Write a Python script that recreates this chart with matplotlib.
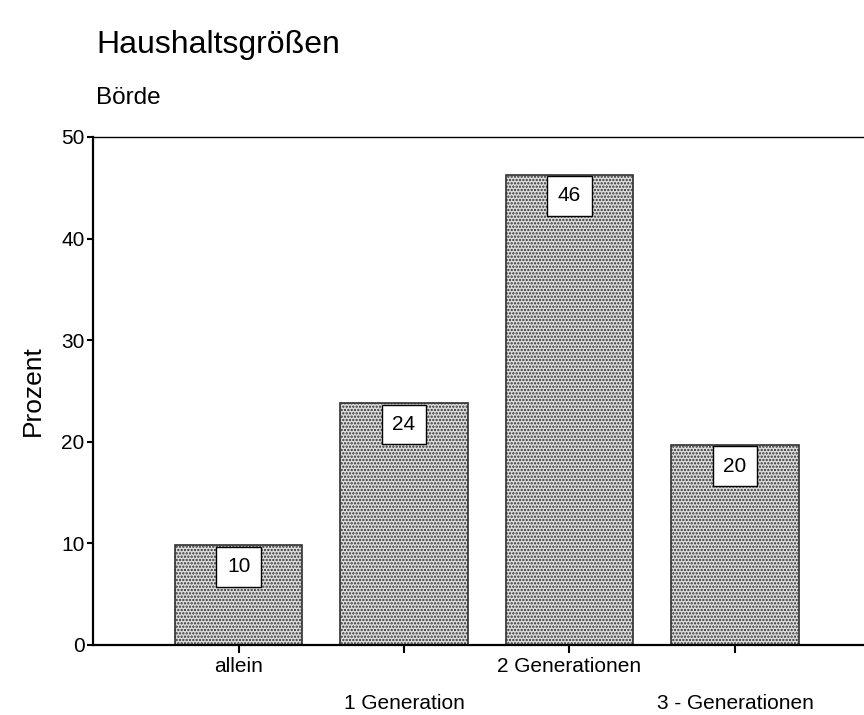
import matplotlib
matplotlib.use("Agg")
import matplotlib.pyplot as plt

categories = ["allein", "1 Generation", "2 Generationen", "3 - Generationen"]
values = [9.8, 23.8, 46.3, 19.7]
labels = ["10", "24", "46", "20"]
yticks = [0, 10, 20, 30, 40, 50]

plt.rcParams['font.family'] = ['Liberation Sans', 'DejaVu Sans']
plt.rcParams['hatch.linewidth'] = 1.1

W, H = 864, 715
fig = plt.figure(figsize=(W/100, H/100), dpi=100)
ax = fig.add_axes([93/W, 1-645/H, 1-93/W, (645-137)/H])

x = list(range(len(categories)))
ax.bar(x, values, width=0.77, facecolor='#dcdcdc', edgecolor='#303030',
       hatch='.....', linewidth=1.2, zorder=2)

fs_box = 15
pad = 0.5
for xi, v, lab in zip(x, values, labels):
    ax.annotate(lab, xy=(xi, v), xytext=(0, -pad*fs_box - 1.0), textcoords='offset points',
                ha='center', va='top', fontsize=fs_box,
                bbox=dict(boxstyle='square,pad=%g' % pad, fc='white', ec='black', lw=1),
                zorder=5)

ax.set_xlim(-0.88, 3.78)
ax.set_ylim(0, 50)
ax.set_yticks(yticks)
ax.set_yticklabels([str(t) for t in yticks], fontsize=15)
ax.set_xticks(x)
ax.set_xticklabels([c if i % 2 == 0 else "\n" + c for i, c in enumerate(categories)],
                   fontsize=15, linespacing=2.15)
ax.tick_params(axis='y', direction='out', length=4, width=1.5, pad=2)
ax.tick_params(axis='x', direction='out', length=6, width=1.5, pad=3)
for s in ['left', 'bottom']:
    ax.spines[s].set_linewidth(1.6)
ax.spines['top'].set_linewidth(1.0)
ax.spines['right'].set_visible(False)

ax.set_ylabel("Prozent", fontsize=19, labelpad=12)

fig.text(96/W, 1-45/H, "Haushaltsgrößen", fontsize=23, ha='left', va='center')
fig.text(96/W, 1-98/H, "Börde", fontsize=17.5, ha='left', va='center')

fig.savefig("out.png", dpi=100)
